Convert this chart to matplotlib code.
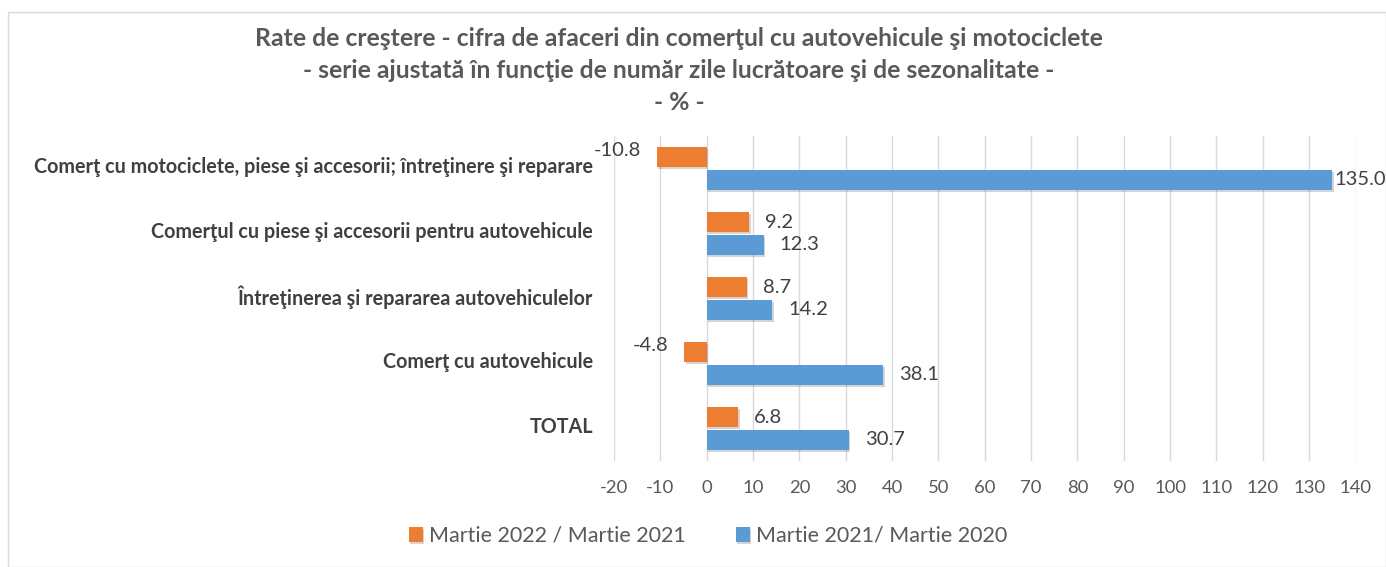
import matplotlib.pyplot as plt
import matplotlib.patheffects as pe
from matplotlib.patches import Rectangle
import numpy as np

categories = [
    "Comerţ cu motociclete, piese şi accesorii; întreţinere şi reparare",
    "Comerţul cu piese şi accesorii pentru autovehicule",
    "Întreţinerea şi repararea autovehiculelor",
    "Comerţ cu autovehicule",
    "TOTAL",
]
mar22 = [-10.8, 9.2, 8.7, -4.8, 6.8]
mar21 = [135.0, 12.3, 14.2, 38.1, 30.7]
series_names = ["Martie 2022 / Martie 2021", "Martie 2021/ Martie 2020"]
xticks = list(range(-20, 141, 10))

plt.rcParams['font.family'] = ['Lato', 'DejaVu Sans']

fig = plt.figure(figsize=(13.86, 5.67), dpi=100)
ax = fig.add_axes([0.443, 0.187, 0.535, 0.573])

y = np.arange(len(categories))
h = 0.31
shadow = [pe.SimplePatchShadow(offset=(1, -1.5), alpha=0.2), pe.Normal()]
b1 = ax.barh(y - h / 2 - 0.02, mar22, height=h, color="#ED7D31", label=series_names[0])
b2 = ax.barh(y + h / 2 + 0.02, mar21, height=h, color="#5B9BD5", label=series_names[1])
for b in list(b1) + list(b2):
    b.set_path_effects(shadow)

for yy, v in zip(y - h / 2 - 0.02, mar22):
    ha = "left" if v >= 0 else "right"
    off = 3.4 if v >= 0 else -3.4
    dy = 0 if v >= 0 else -0.1
    ax.text(v + off, yy + dy, f"{v:.1f}", ha=ha, va="center", fontsize=14.5, color="#404040")
for yy, v in zip(y + h / 2 + 0.02, mar21):
    ax.text(v + 0.5 if v > 100 else v + 3.4, yy, f"{v:.1f}", ha="left", va="center",
            fontsize=14.5, color="#404040")

ax.set_xlim(-20, 140)
ax.set_ylim(len(categories) - 0.5, -0.5)
ax.set_xticks(xticks)
ax.set_xticklabels([str(t) for t in xticks], fontsize=13.3, color="#595959")
ax.set_yticks(y - 0.05)
ax.set_yticklabels(categories, fontsize=14.2, fontweight="bold", color="#404040")
ax.tick_params(axis="x", length=0, pad=14)
ax.tick_params(axis="y", length=0, pad=15)
ax.grid(axis="x", color="#D9D9D9", linewidth=1)
ax.set_axisbelow(True)
for s in ax.spines.values():
    s.set_visible(False)

title_lines = [
    "Rate de creştere - cifra de afaceri din comerţul cu autovehicule şi motociclete",
    "- serie ajustată în funcţie de număr zile lucrătoare şi de sezonalitate -",
    "- % -",
]
for i, t in enumerate(title_lines):
    fig.text(0.49, 1 - (38 + 32 * i) / 567, t, ha="center", va="center", fontsize=17.8,
             fontweight="bold", color="#595959")

fig.legend(handles=[b1, b2], labels=series_names, loc="center", bbox_to_anchor=(0.511, 1 - 536 / 567),
           ncol=2, frameon=False, fontsize=15.5, labelcolor="#595959", handlelength=0.65,
           handleheight=0.65, handletextpad=0.3, columnspacing=2.3)

fig.add_artist(Rectangle((8 / 1386, 0.0), 1 - 8 / 1386, 1 - 12 / 567, transform=fig.transFigure,
                         fill=False, edgecolor="#D9D9D9", linewidth=1))

fig.savefig("out.png", dpi=100)
